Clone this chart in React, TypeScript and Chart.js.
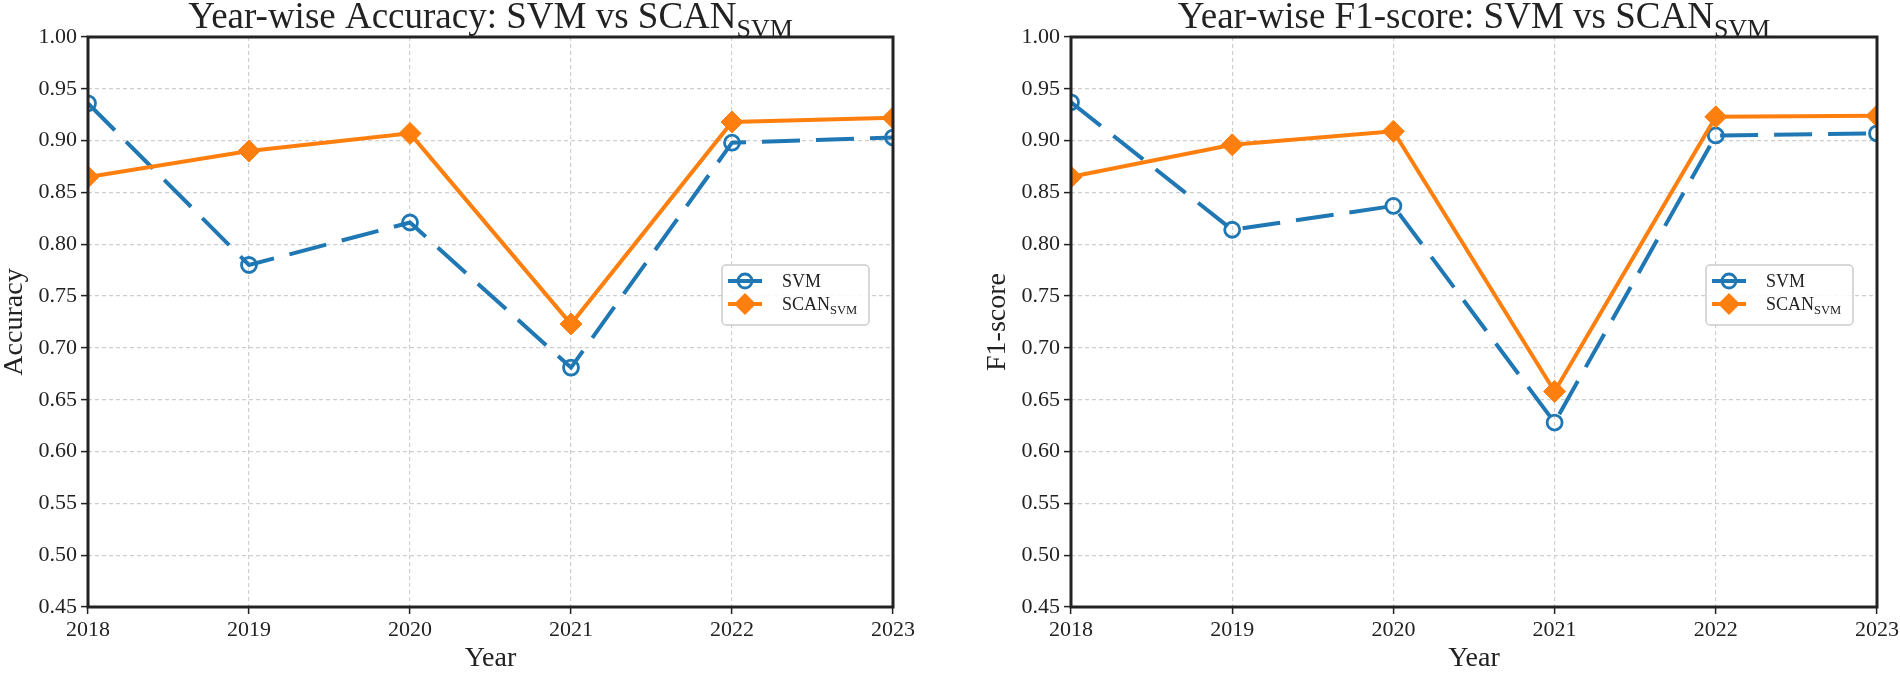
import React, { useEffect, useRef } from "react";
import { Chart, registerables } from "chart.js";

Chart.register(...registerables);

const YEARS = ["2018", "2019", "2020", "2021", "2022", "2023"];
const ACC_SVM = [0.936, 0.78, 0.821, 0.681, 0.898, 0.903];
const ACC_SCAN = [0.865, 0.89, 0.907, 0.723, 0.918, 0.922];
const F1_SVM = [0.937, 0.814, 0.837, 0.628, 0.905, 0.907];
const F1_SCAN = [0.865, 0.896, 0.909, 0.658, 0.923, 0.924];
const Y_TICKS = [0.45, 0.5, 0.55, 0.6, 0.65, 0.7, 0.75, 0.8, 0.85, 0.9, 0.95, 1.0];

const BLUE = "#1f77b4";
const ORANGE = "#ff7f0e";
const FONT = "'Liberation Serif', 'Times New Roman', serif";

Chart.defaults.font.family = FONT;
Chart.defaults.color = "#222";

function drawSubText(ctx: CanvasRenderingContext2D, x: number, y: number, main: string, sub: string, size: number, subSize: number, subDrop: number, align: "center" | "left") {
  ctx.font = `${size}px ${FONT}`;
  const w1 = ctx.measureText(main).width;
  ctx.font = `${subSize}px ${FONT}`;
  const w2 = ctx.measureText(sub).width;
  let sx = x;
  if (align === "center") sx = x - (w1 + w2) / 2;
  ctx.textAlign = "left";
  ctx.font = `${size}px ${FONT}`;
  ctx.fillText(main, sx, y);
  ctx.font = `${subSize}px ${FONT}`;
  ctx.fillText(sub, sx + w1, y + subDrop);
}

const decorPlugin = {
  id: "decor",
  afterDatasetsDraw(chart: any) {
    const { ctx, chartArea: ca } = chart;
    ctx.save();
    ctx.strokeStyle = "#222";
    ctx.lineWidth = 3;
    ctx.setLineDash([]);
    ctx.strokeRect(ca.left, ca.top, ca.right - ca.left, ca.bottom - ca.top);

    const bw = 147, bh = 60;
    const bx = ca.right - 24 - bw;
    const by = ca.top + 228;
    ctx.beginPath();
    ctx.roundRect(bx, by, bw, bh, 4);
    ctx.fillStyle = "rgba(255,255,255,0.85)";
    ctx.fill();
    ctx.strokeStyle = "#cccccc";
    ctx.lineWidth = 1.5;
    ctx.stroke();

    const y1 = by + 16, y2 = by + 39;
    const lx1 = bx + 6, lx2 = bx + 40, mx = bx + 23;
    ctx.strokeStyle = BLUE;
    ctx.lineWidth = 4;
    ctx.beginPath();
    ctx.moveTo(lx1, y1);
    ctx.lineTo(lx2, y1);
    ctx.stroke();
    ctx.lineWidth = 2.8;
    ctx.beginPath();
    ctx.arc(mx, y1, 7, 0, Math.PI * 2);
    ctx.stroke();
    ctx.strokeStyle = ORANGE;
    ctx.lineWidth = 4;
    ctx.beginPath();
    ctx.moveTo(lx1, y2);
    ctx.lineTo(lx2, y2);
    ctx.stroke();
    ctx.fillStyle = ORANGE;
    ctx.beginPath();
    ctx.moveTo(mx - 11, y2);
    ctx.lineTo(mx, y2 - 11);
    ctx.lineTo(mx + 11, y2);
    ctx.lineTo(mx, y2 + 11);
    ctx.closePath();
    ctx.fill();

    ctx.fillStyle = "#222";
    ctx.textBaseline = "alphabetic";
    ctx.textAlign = "left";
    ctx.font = `18px ${FONT}`;
    ctx.fillText("SVM", bx + 60, y1 + 6);
    drawSubText(ctx, bx + 60, y2 + 6, "SCAN", "SVM", 18, 12.6, 4, "left");
    ctx.restore();
  },
  afterDraw(chart: any, _args: any, opts: any) {
    const { ctx, chartArea: ca } = chart;
    ctx.save();
    ctx.fillStyle = "#222";
    ctx.textBaseline = "alphabetic";
    const cx = (ca.left + ca.right) / 2;
    drawSubText(ctx, cx, 28, opts.title, "SVM", 37, 26, 9, "center");

    ctx.font = `28px ${FONT}`;
    ctx.textAlign = "center";
    ctx.textBaseline = "middle";
    ctx.fillText("Year", cx, 659);

    ctx.translate(ca.left - 73, (ca.top + ca.bottom) / 2);
    ctx.rotate(-Math.PI / 2);
    ctx.fillText(opts.ylabel, 0, 0);
    ctx.restore();
  },
};

type PanelProps = {
  left: number;
  axisWidth: number;
  rightPad: number;
  title: string;
  ylabel: string;
  svm: number[];
  scan: number[];
};

function Panel({ left, axisWidth, rightPad, title, ylabel, svm, scan }: PanelProps) {
  const ref = useRef<HTMLCanvasElement | null>(null);
  useEffect(() => {
    if (!ref.current) return;
    const gridOpts = {
      color: "#cfcfcf",
      lineWidth: 1.2,
      tickLength: 7,
      tickColor: "#222",
      tickWidth: 1.5,
      tickBorderDash: [],
    };
    const chart = new Chart(ref.current, {
      type: "line",
      data: {
        labels: YEARS,
        datasets: [
          {
            label: "SVM",
            data: svm,
            borderColor: BLUE,
            borderWidth: 4,
            borderDash: [38, 16],
            pointStyle: "circle",
            pointRadius: 7.5,
            pointBorderWidth: 2.8,
            pointBackgroundColor: "rgba(0,0,0,0)",
            pointBorderColor: BLUE,
            tension: 0,
            clip: 0,
            order: 1,
          },
          {
            label: "SCAN_SVM",
            data: scan,
            borderColor: ORANGE,
            borderWidth: 4,
            pointStyle: "rectRot",
            pointRadius: 11,
            pointBorderWidth: 1,
            pointBackgroundColor: ORANGE,
            pointBorderColor: ORANGE,
            tension: 0,
            clip: 0,
            order: 0,
          },
        ],
      },
      options: {
        responsive: false,
        animation: false,
        devicePixelRatio: 1,
        layout: { padding: { left: 0, right: rightPad, top: 37, bottom: 0 } },
        plugins: {
          legend: { display: false },
          title: { display: false },
          tooltip: { enabled: false },
          decor: { title, ylabel },
        } as any,
        scales: {
          x: {
            type: "category",
            offset: false,
            grid: gridOpts,
            border: { display: false, dash: [4, 3] },
            ticks: {
              font: { family: FONT, size: 22 },
              color: "#222",
              padding: 3,
              maxRotation: 0,
              autoSkip: false,
            },
            afterFit: (s: any) => {
              s.height = 66;
              s.paddingLeft = 0;
              s.paddingRight = 0;
            },
          },
          y: {
            type: "linear",
            min: 0.45,
            max: 1.0,
            grid: gridOpts,
            border: { display: false, dash: [4, 3] },
            ticks: {
              font: { family: FONT, size: 22 },
              color: "#222",
              padding: 4,
              callback: (v: any) => Number(v).toFixed(2),
            },
            afterBuildTicks: (s: any) => {
              s.ticks = Y_TICKS.map((v) => ({ value: v }));
            },
            afterFit: (s: any) => {
              s.width = axisWidth;
              s.paddingTop = 0;
              s.paddingBottom = 0;
            },
          },
        },
      },
      plugins: [decorPlugin as any],
    });
    return () => chart.destroy();
  }, []);
  return (
    <canvas
      ref={ref}
      width={950}
      height={673}
      style={{ position: "absolute", left, top: 0, width: 950, height: 673 }}
    />
  );
}

export default function App() {
  return (
    <div style={{ position: "absolute", left: 0, top: 0, width: 1900, height: 673, background: "#fff" }}>
      <Panel left={0} axisWidth={88} rightPad={57} title="Year-wise Accuracy: SVM vs SCAN" ylabel="Accuracy" svm={ACC_SVM} scan={ACC_SCAN} />
      <Panel left={950} axisWidth={121} rightPad={23} title="Year-wise F1-score: SVM vs SCAN" ylabel="F1-score" svm={F1_SVM} scan={F1_SCAN} />
    </div>
  );
}
